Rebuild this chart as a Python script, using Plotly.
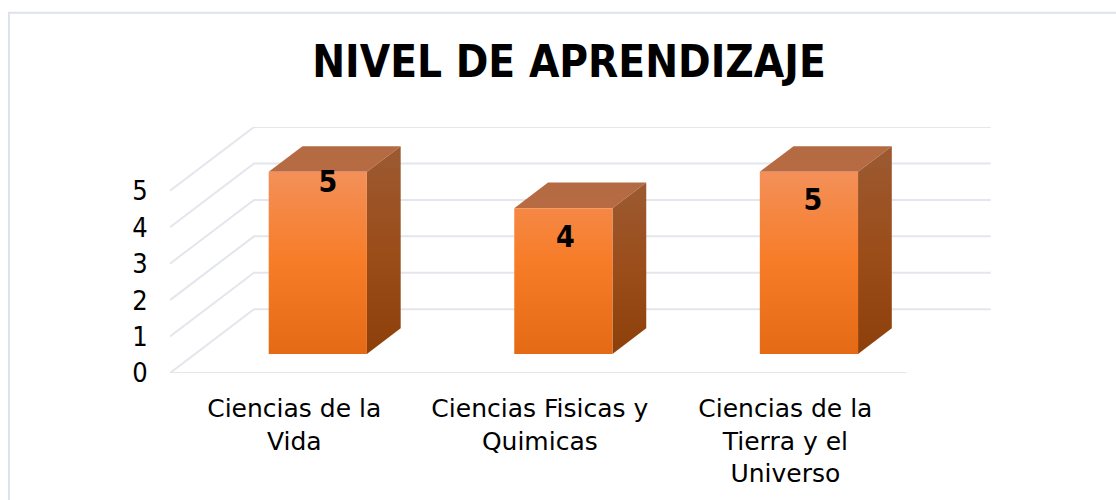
import plotly.graph_objects as go

categories = ["Ciencias de la<br>Vida", "Ciencias Fisicas y<br>Quimicas", "Ciencias de la<br>Tierra y el<br>Universo"]
values = [5, 4, 5]
labels = ["5", "4", "5"]
y_ticks = [0, 1, 2, 3, 4, 5]
title = "NIVEL DE APRENDIZAJE"

# chart-geometry settings (pixel layout of the pseudo-3D box)
PX_LEFT, PX_RIGHT, PX_TOP, PX_BOTTOM = 170, 992, 127, 372.7
PX_UNIT = 36.4
PX_CAT = 245.56
XMIN = -0.5
XMAX = XMIN + (PX_RIGHT - PX_LEFT) / PX_CAT
YMAX = (PX_BOTTOM - PX_TOP) / PX_UNIT
DX = 84 / PX_CAT      # x shift for full depth, category units
DY = 63.7 / PX_UNIT   # y shift for full depth, value units
BAR_W = 0.4
D0, D1 = 0.298, 0.70
label_dx = [0.041, 0.008, 0.016]
label_dy = [-0.34, -0.87, -0.83]
TICK_SHIFT = 0.006

FONT = "DejaVu Sans, sans-serif"
FONT_C = "DejaVu Sans Condensed, DejaVu Sans, sans-serif"
GRID = "#e3e6ec"
BORDER = "#dde3e8"


def px_x(px):
    return (px - PX_LEFT) / (PX_RIGHT - PX_LEFT)


def px_y(px):
    return (PX_BOTTOM - px) / (PX_BOTTOM - PX_TOP)


def proj(x, y, d):
    return x + d * DX, y + d * DY


fig = go.Figure()


def line(pts, color=GRID, width=2):
    fig.add_trace(go.Scatter(x=[p[0] for p in pts], y=[p[1] for p in pts], mode="lines",
                             line=dict(color=color, width=width), hoverinfo="skip", showlegend=False,
                             cliponaxis=False))


xfront_end = XMIN + 3
for t in y_ticks:
    if t == 0:
        line([proj(xfront_end, 0, 0), proj(XMIN, 0, 0), proj(XMIN, 0, 1), proj(xfront_end, 0, 1)])
    else:
        line([proj(XMIN, t, 0), proj(XMIN, t, 1), proj(xfront_end, t, 1)])


def face(pts, stops, start, stop):
    fig.add_trace(go.Scatter(
        x=[p[0] for p in pts] + [pts[0][0]], y=[p[1] for p in pts] + [pts[0][1]],
        mode="lines", fill="toself", line=dict(width=0),
        fillgradient=dict(type="vertical", colorscale=stops, start=start, stop=stop),
        hoverinfo="skip", showlegend=False, cliponaxis=False))


for i, v in enumerate(values):
    x0, x1 = i - BAR_W / 2, i + BAR_W / 2
    # top
    face([proj(x0, v, D0), proj(x1, v, D0), proj(x1, v, D1), proj(x0, v, D1)],
         [[0, "#b36a42"], [1, "#b86b42"]], proj(0, v, D1)[1], proj(0, v, D0)[1])
    # right side
    face([proj(x1, 0, D0), proj(x1, 0, D1), proj(x1, v, D1), proj(x1, v, D0)],
         [[0, "#9c5a32"], [0.5, "#9b4d1a"], [1, "#8e400b"]], proj(0, v, D1)[1], proj(0, 0, D0)[1])
    # front
    face([proj(x0, 0, D0), proj(x1, 0, D0), proj(x1, v, D0), proj(x0, v, D0)],
         [[0, "#f39059"], [0.5, "#f77c27"], [1, "#e46a15"]], proj(0, 5, D0)[1], proj(0, 0, D0)[1])

lx = [proj(i + label_dx[i], 0, D0)[0] for i in range(3)]
ly = [proj(0, values[i] + label_dy[i], D0)[1] for i in range(3)]
fig.add_trace(go.Scatter(x=lx, y=ly, mode="text", text=labels, textposition="middle center",
                         textfont=dict(family=FONT_C, size=30, color="#000000", weight="bold"),
                         hoverinfo="skip", showlegend=False, cliponaxis=False))

fig.update_layout(
    width=1116, height=500, autosize=False,
    margin=dict(l=PX_LEFT, r=1116 - PX_RIGHT, t=PX_TOP, b=500 - PX_BOTTOM, pad=0),
    paper_bgcolor="#ffffff", plot_bgcolor="#ffffff",
    title=dict(text="<b>%s</b>" % title, x=569 / 1116, xanchor="center", y=1 - 62 / 500, yanchor="middle",
               font=dict(family=FONT_C, size=43.7, color="#000000")),
    font=dict(family=FONT, color="#000000"),
    shapes=[
        dict(type="line", xref="paper", yref="paper", layer="below", x0=px_x(9), x1=px_x(9),
             y0=px_y(13), y1=px_y(500), line=dict(color=BORDER, width=2)),
        dict(type="line", xref="paper", yref="paper", layer="below", x0=px_x(8), x1=px_x(1116),
             y0=px_y(13), y1=px_y(13), line=dict(color=BORDER, width=2)),
    ],
    xaxis=dict(range=[XMIN, XMAX], tickmode="array",
               tickvals=[i + TICK_SHIFT for i in range(len(categories))], ticktext=categories,
               tickfont=dict(family=FONT, size=25, color="#000000"), showgrid=False, zeroline=False,
               automargin=False, showline=False, ticks="outside", ticklen=13,
               tickcolor="rgba(0,0,0,0)", tickangle=0),
    yaxis=dict(range=[0, YMAX], tickmode="array", tickvals=y_ticks, ticktext=[str(t) for t in y_ticks],
               tickfont=dict(family=FONT_C, size=27, color="#000000"), showgrid=False, zeroline=False,
               automargin=False, showline=False, ticks="outside", ticklen=16,
               tickcolor="rgba(0,0,0,0)"),
)

fig.write_html("out.html", post_script="document.body.style.margin='0';document.body.style.overflow='hidden';",
               config={"displayModeBar": False})
